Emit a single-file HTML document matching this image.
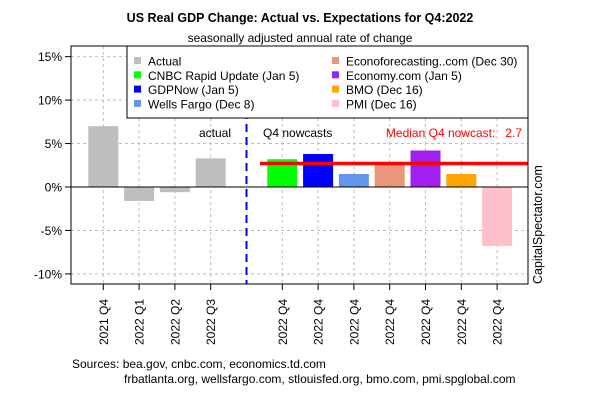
<!DOCTYPE html>
<html><head><meta charset="utf-8"><style>
body{margin:0;background:#fff;}
svg{display:block;font-family:"Liberation Sans",Arial,sans-serif;}
</style></head><body>
<svg id="c" width="600" height="400" viewBox="0 0 600 400">
<rect width="600" height="400" fill="#fff"/>
<text x="300" y="22" text-anchor="middle" font-size="12.5" font-weight="bold">US Real GDP Change: Actual vs. Expectations for Q4:2022</text>
<text x="300" y="42" text-anchor="middle" font-size="12">seasonally adjusted annual rate of change</text>
<g id="grid"></g>
<g id="bars"></g>
<g id="axes"></g>
<g id="legend"></g>
<text x="72" y="368" font-size="12">Sources: bea.gov, cnbc.com, economics.td.com</text>
<text x="124" y="383" font-size="12">frbatlanta.org, wellsfargo.com, stlouisfed.org, bmo.com, pmi.spglobal.com</text>
<text transform="translate(542,284) rotate(-90)" font-size="12.5">CapitalSpectator.com</text>
</svg>
<script>
const categories=["2021 Q4","2022 Q1","2022 Q2","2022 Q3","","2022 Q4","2022 Q4","2022 Q4","2022 Q4","2022 Q4","2022 Q4","2022 Q4"];
const values=[7.0,-1.6,-0.6,3.3,null,3.2,3.8,1.5,2.8,4.2,1.5,-6.8];
const barColors=["#bebebe","#bebebe","#bebebe","#bebebe",null,"#00ff00","#0000ff","#6495ed","#e9967a","#a020f0","#ffa500","#ffc0cb"];
const yTicks=[15,10,5,0,-5,-10];
const median=2.7;
const legendLeft=[["Actual","#bebebe"],["CNBC Rapid Update (Jan 5)","#00ff00"],["GDPNow (Jan 5)","#0000ff"],["Wells Fargo (Dec 8)","#6495ed"]];
const legendRight=[["Econoforecasting..com (Dec 30)","#e9967a"],["Economy.com (Jan 5)","#a020f0"],["BMO (Dec 16)","#ffa500"],["PMI (Dec 16)","#ffc0cb"]];
const NS="http://www.w3.org/2000/svg";
const L=71,R=528,T=46,B=284;
const y=v=>187-v*8.69;
const x=i=>103.3+i*35.8;
function mk(p,tag,at){const e=document.createElementNS(NS,tag);for(const k in at)e.setAttribute(k,at[k]);p.appendChild(e);return e;}
const g=document.getElementById('grid'),b=document.getElementById('bars'),a=document.getElementById('axes'),lg=document.getElementById('legend');
yTicks.forEach(t=>{const l=mk(g,'line',{x1:L,x2:R,y1:y(t),y2:y(t),stroke:'#bebebe','stroke-dasharray':'3,3'});

const tk=mk(a,'line',{x1:L-6,x2:L,y1:y(t),y2:y(t),stroke:'#000'});

const tx=mk(a,'text',{x:L-9,y:y(t)+4.5,'text-anchor':'end','font-size':'12'});tx.textContent=t+'%';
});
categories.forEach((c,i)=>{if(i===4)return;
const l=mk(g,'line',{x1:x(i),x2:x(i),y1:T,y2:B,stroke:'#bebebe','stroke-dasharray':'3,3'});

const tk=mk(a,'line',{x1:x(i),x2:x(i),y1:B,y2:B+6,stroke:'#000'});

const tx=mk(a,'text',{transform:`translate(${x(i)+4.5},345) rotate(-90)`,'font-size':'12'});tx.textContent=c;

const v=values[i];const r=mk(b,'rect',{x:x(i)-15,width:30,y:Math.min(y(v),y(0)),height:Math.abs(y(v)-y(0)),fill:barColors[i]});
});
const z=mk(a,'line',{x1:L,x2:R,y1:y(0),y2:y(0),stroke:'#000'});
const d=mk(a,'line',{x1:x(4),x2:x(4),y1:T,y2:B,stroke:'#0000ff','stroke-width':2,'stroke-dasharray':'8,5'});

const m=mk(a,'line',{x1:260,x2:R,y1:y(median),y2:y(median),stroke:'#ff0000','stroke-width':3.5});

const fr=mk(a,'rect',{x:L,y:T,width:R-L,height:B-T,fill:'none',stroke:'#000'});
const lb=mk(a,'text',{x:231,y:137,'text-anchor':'end','font-size':'12'});lb.textContent='actual';
const lb2=mk(a,'text',{x:263,y:137,'font-size':'12'});lb2.textContent='Q4 nowcasts';
const lb3=mk(a,'text',{x:522,y:137,'text-anchor':'end','font-size':'12',fill:'#ff0000'});lb3.textContent='Median Q4 nowcast:   '+median;lb3.style.whiteSpace='pre';

const box=mk(lg,'rect',{x:127,y:T,width:R-127,height:72,fill:'#fff',stroke:'#000'});
[[legendLeft,134],[legendRight,332]].forEach(([arr,lx])=>arr.forEach(([t,c],k)=>{const cy=61+k*14.3;
const s=mk(lg,'rect',{x:lx,y:cy-4,width:7,height:7,fill:c});
const tx=mk(lg,'text',{x:lx+14,y:cy+4.5,'font-size':'12'});tx.textContent=t;}));
</script>
</body></html>
